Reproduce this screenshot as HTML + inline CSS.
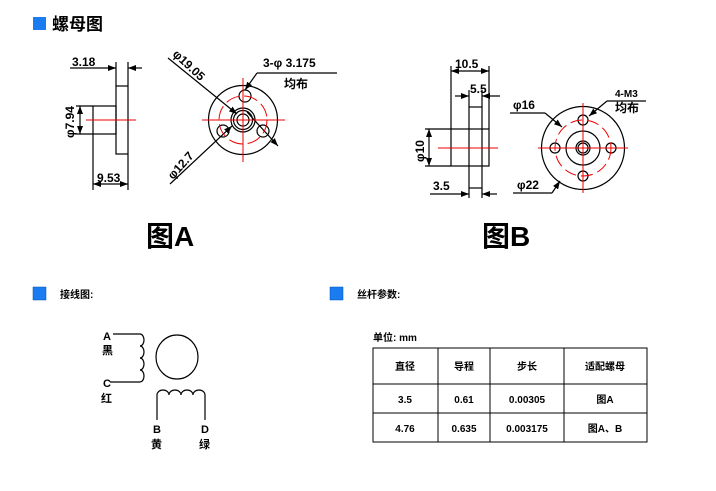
<!DOCTYPE html>
<html><head><meta charset="utf-8"><style>
html,body{margin:0;padding:0;background:#fff;}
svg{display:block;}
text{font-family:"Liberation Sans","Noto Sans CJK SC",sans-serif;font-weight:bold;fill:#000;}
</style></head><body>
<svg width="716" height="491" viewBox="0 0 716 491" xmlns="http://www.w3.org/2000/svg">
<defs>
<marker id="ar" markerWidth="8" markerHeight="6" refX="8" refY="3" orient="auto" markerUnits="userSpaceOnUse"><path d="M0,0 L8,3 L0,6z" fill="#000"/></marker>
</defs>
<rect x="33" y="17" width="13" height="13" fill="#1a7cf0"/>
<text x="52" y="30" font-size="17">螺母图</text>

<g stroke="#000" stroke-width="1.2" fill="none">
<rect x="116" y="86" width="12" height="68"/>
<rect x="93" y="106" width="23" height="28"/>
<line x1="116" y1="62" x2="116" y2="86"/><line x1="128" y1="62" x2="128" y2="86"/>
<line x1="70" y1="68" x2="116" y2="68" marker-end="url(#ar)"/><line x1="142" y1="68" x2="128" y2="68" marker-end="url(#ar)"/>
<line x1="76" y1="106" x2="93" y2="106"/><line x1="76" y1="134" x2="93" y2="134"/>
<line x1="80" y1="120" x2="80" y2="106" marker-end="url(#ar)"/><line x1="80" y1="120" x2="80" y2="134" marker-end="url(#ar)"/>
<line x1="93" y1="134" x2="93" y2="190"/><line x1="128" y1="154" x2="128" y2="190"/>
<line x1="110" y1="184" x2="93" y2="184" marker-end="url(#ar)"/><line x1="110" y1="184" x2="128" y2="184" marker-end="url(#ar)"/>
<circle cx="243" cy="120" r="34.5"/>
<circle cx="243" cy="120" r="12"/><circle cx="243" cy="120" r="9.5"/><circle cx="243" cy="120" r="6"/>
<circle cx="245" cy="96" r="6"/><circle cx="223" cy="131" r="6"/><circle cx="263" cy="131" r="6"/>
<line x1="168" y1="58" x2="237" y2="114" marker-end="url(#ar)"/>
<line x1="170" y1="184" x2="232" y2="126" marker-end="url(#ar)"/>
<line x1="247" y1="112" x2="278" y2="146" marker-end="url(#ar)"/>
<line x1="337" y1="73" x2="257" y2="73"/><line x1="257" y1="73" x2="245" y2="90" marker-end="url(#ar)"/>
<rect x="469" y="107" width="13" height="81"/>
<rect x="451" y="129" width="38" height="37"/>
<line x1="451" y1="66" x2="451" y2="129"/><line x1="489" y1="66" x2="489" y2="129"/>
<line x1="470" y1="71" x2="451" y2="71" marker-end="url(#ar)"/><line x1="470" y1="71" x2="489" y2="71" marker-end="url(#ar)"/>
<line x1="469" y1="90" x2="469" y2="107"/><line x1="482" y1="90" x2="482" y2="107"/>
<line x1="455" y1="96" x2="469" y2="96" marker-end="url(#ar)"/><line x1="500" y1="96" x2="482" y2="96" marker-end="url(#ar)"/>
<line x1="425" y1="129" x2="451" y2="129"/><line x1="425" y1="166" x2="451" y2="166"/>
<line x1="429" y1="148" x2="429" y2="129" marker-end="url(#ar)"/><line x1="429" y1="148" x2="429" y2="166" marker-end="url(#ar)"/>
<line x1="469" y1="188" x2="469" y2="198"/><line x1="482" y1="188" x2="482" y2="198"/>
<line x1="430" y1="194" x2="469" y2="194" marker-end="url(#ar)"/><line x1="497" y1="194" x2="482" y2="194" marker-end="url(#ar)"/>
<circle cx="583" cy="148" r="41.5"/>
<circle cx="583" cy="148" r="17"/><circle cx="583" cy="148" r="7"/><circle cx="583" cy="148" r="5"/>
<circle cx="583" cy="120" r="5"/><circle cx="583" cy="176" r="5"/><circle cx="555" cy="148" r="5"/><circle cx="611" cy="148" r="5"/>
<line x1="510" y1="113" x2="545" y2="113"/><line x1="545" y1="113" x2="562" y2="127" marker-end="url(#ar)"/>
<line x1="513" y1="193" x2="552" y2="193"/><line x1="552" y1="193" x2="560" y2="181" marker-end="url(#ar)"/>
<line x1="646" y1="101" x2="607" y2="101"/><line x1="607" y1="101" x2="589" y2="116" marker-end="url(#ar)"/>
</g>
<g stroke="#e00" stroke-width="1" fill="none">
<line x1="86" y1="120" x2="136" y2="120"/>
<line x1="202" y1="120" x2="285" y2="120"/><line x1="243" y1="78" x2="243" y2="162"/>
<circle cx="243" cy="120" r="24" stroke-dasharray="14,5"/>
<line x1="438" y1="148" x2="498" y2="148"/>
<line x1="538" y1="148" x2="628" y2="148"/><line x1="583" y1="103" x2="583" y2="193"/>
<circle cx="583" cy="148" r="28" stroke-dasharray="12,5"/>
</g>
<g font-size="12">
<text x="72" y="66">3.18</text>
<text x="97" y="182">9.53</text>
<text transform="translate(74,138) rotate(-90)">φ7.94</text>
<text transform="translate(172,55) rotate(43)">φ19.05</text>
<text transform="translate(173,180) rotate(-48)">φ12.7</text>
<text x="263" y="67">3-φ 3.175</text>
<text x="284" y="88">均布</text>
<text x="455" y="68">10.5</text>
<text x="470" y="93">5.5</text>
<text transform="translate(424,162) rotate(-90)">φ10</text>
<text x="433" y="190">3.5</text>
<text x="513" y="109">φ16</text>
<text x="517" y="189">φ22</text>
<text x="615" y="97" font-size="10">4-M3</text>
<text x="615" y="112">均布</text>
</g>
<text x="146" y="246" font-size="28" font-weight="normal">图A</text>
<text x="482" y="246" font-size="28" font-weight="normal">图B</text>

<rect x="33" y="287" width="13" height="13" fill="#1a7cf0" stroke="#0050b0" stroke-width="0.5"/>
<text x="60" y="298" font-size="10">接线图:</text>
<rect x="330" y="287" width="13" height="13" fill="#1a7cf0" stroke="#0050b0" stroke-width="0.5"/>
<text x="357" y="298" font-size="10">丝杆参数:</text>

<g stroke="#000" stroke-width="1.2" fill="none">
<path d="M113,334 H140 a4,6 0 0 1 0,12 a4,6 0 0 1 0,12 a4,6 0 0 1 0,12 a4,6 0 0 1 0,12 H110"/>
<ellipse cx="177" cy="357" rx="21" ry="22"/>
<path d="M157,420 V395 a6,5 0 0 1 12,0 a6,5 0 0 1 12,0 a6,5 0 0 1 12,0 a6,5 0 0 1 12,0 V420"/>
</g>
<g font-size="11">
<text x="103" y="340">A</text><text x="102" y="354">黑</text>
<text x="103" y="387">C</text><text x="101" y="402">红</text>
<text x="153" y="433">B</text><text x="151" y="448">黄</text>
<text x="201" y="433">D</text><text x="199" y="448">绿</text>
</g>

<text x="373" y="341" font-size="10">单位: mm</text>
<g stroke="#000" stroke-width="1" fill="none">
<rect x="373" y="348" width="274" height="94"/>
<line x1="373" y1="384" x2="647" y2="384"/><line x1="373" y1="413" x2="647" y2="413"/>
<line x1="438" y1="348" x2="438" y2="442"/><line x1="490" y1="348" x2="490" y2="442"/><line x1="564" y1="348" x2="564" y2="442"/>
</g>
<g font-size="10" text-anchor="middle">
<text x="405" y="370">直径</text><text x="464" y="370">导程</text><text x="527" y="370">步长</text><text x="605" y="370">适配螺母</text>
<text x="405" y="403">3.5</text><text x="464" y="403">0.61</text><text x="527" y="403">0.00305</text><text x="605" y="403">图A</text>
<text x="405" y="432">4.76</text><text x="464" y="432">0.635</text><text x="527" y="432">0.003175</text><text x="605" y="432">图A、B</text>
</g>
</svg>
</body></html>
